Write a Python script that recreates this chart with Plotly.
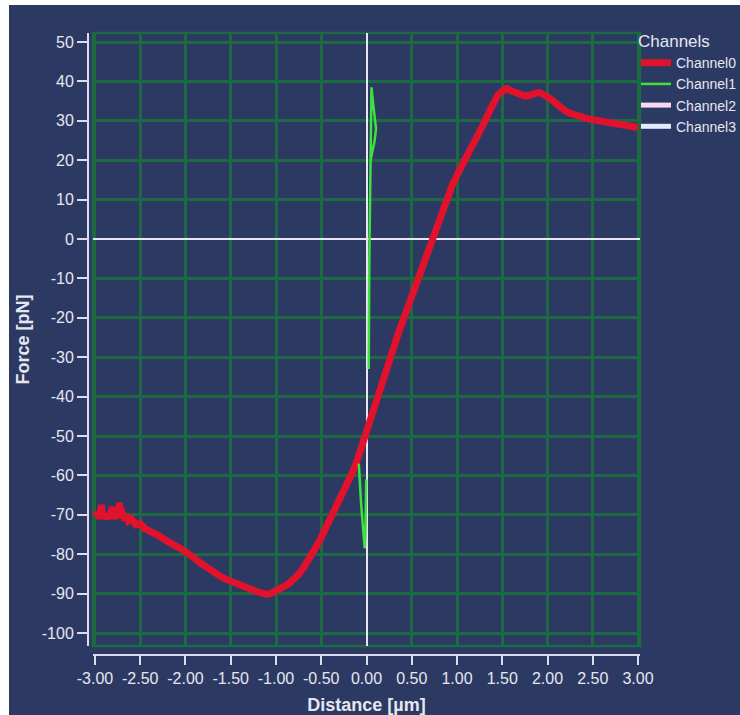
import plotly.graph_objects as go

# ---------------- data ----------------
ch0_distance = [-3.00, -2.97, -2.95, -2.93, -2.91, -2.89, -2.87, -2.85, -2.83, -2.81,
                -2.79, -2.77, -2.75, -2.73, -2.71, -2.69, -2.67, -2.65, -2.63, -2.60,
                -2.55, -2.50, -2.45, -2.40, -2.35, -2.30, -2.25, -2.20, -2.15, -2.10,
                -2.05, -2.00, -1.95, -1.90, -1.85, -1.80, -1.75, -1.70, -1.65, -1.60,
                -1.55, -1.50, -1.45, -1.40, -1.35, -1.30, -1.25, -1.20, -1.15, -1.10,
                -1.05, -1.00, -0.95, -0.90, -0.85, -0.80, -0.75, -0.70, -0.65, -0.60,
                -0.55, -0.50, -0.45, -0.40, -0.35, -0.30, -0.25, -0.20, -0.15, -0.10,
                -0.05, 0.00, 0.05, 0.10, 0.15, 0.20, 0.25, 0.30, 0.35, 0.40,
                0.45, 0.50, 0.55, 0.60, 0.65, 0.70, 0.75, 0.80, 0.85, 0.90,
                0.95, 1.00, 1.05, 1.10, 1.15, 1.20, 1.25, 1.30, 1.35, 1.40,
                1.45, 1.50, 1.55, 1.60, 1.65, 1.70, 1.75, 1.80, 1.85, 1.90,
                1.95, 2.00, 2.05, 2.10, 2.15, 2.20, 2.25, 2.30, 2.35, 2.40,
                2.45, 2.50, 2.55, 2.60, 2.65, 2.70, 2.75, 2.80, 2.85, 2.90,
                2.95, 3.00]
ch0_force = [-70.5, -69.5, -71.0, -67.5, -70.8, -70.0, -71.0, -69.8, -70.5, -68.0,
             -71.0, -69.5, -70.8, -67.0, -70.5, -70.0, -71.3, -70.0, -71.5, -71.0,
             -72.5, -72.2, -73.5, -74.0, -74.8, -75.2, -76.0, -76.8, -77.3, -78.0,
             -78.6, -79.3, -80.3, -81.0, -82.0, -82.8, -83.8, -84.5, -85.2, -85.8,
             -86.4, -86.9, -87.4, -87.9, -88.4, -88.8, -89.2, -89.6, -89.9, -90.2,
             -89.9, -89.4, -88.8, -88.1, -87.3, -86.3, -85.1, -83.6, -81.9, -80.0,
             -77.9, -75.7, -73.4, -71.1, -68.8, -66.5, -64.1, -61.6, -59.0, -56.0,
             -52.6, -49.3, -46.0, -42.3, -38.6, -35.0, -31.3, -27.6, -24.0, -20.8,
             -17.5, -14.2, -11.0, -8.0, -5.0, -2.2, 0.6, 3.8, 7.2, 10.6,
             13.8, 16.2, 18.3, 20.6, 22.8, 25.0, 27.0, 29.5, 32.0, 34.5,
             36.5, 37.5, 38.2, 37.6, 37.2, 36.8, 36.3, 36.5, 36.9, 37.2,
             36.8, 36.2, 35.3, 34.3, 33.3, 32.5, 31.9, 31.4, 31.1, 30.8,
             30.5, 30.3, 30.1, 29.9, 29.7, 29.5, 29.4, 29.2, 29.0, 28.8,
             28.6, 28.3]

ch1_distance = [0.025, 0.025, 0.03, 0.035, 0.04, 0.045, 0.05, 0.05, 0.055,
                0.07, 0.09, 0.105, 0.09, 0.06, 0.045, None,
                -0.085, -0.08, -0.07, -0.06, -0.045, -0.03, -0.02, -0.012,
                -0.006, -0.004, -0.003]
ch1_force = [-33.0, -20.0, -8.0, 2.0, 10.0, 18.0, 25.0, 31.0, 38.5,
             35.0, 31.0, 28.0, 25.0, 22.0, 20.0, None,
             -57.0, -60.0, -63.0, -67.0, -71.0, -75.0, -78.5, -75.0,
             -70.0, -65.0, -61.0]

channel_names = ["Channel0", "Channel1", "Channel2", "Channel3"]
channel_colors = ["#e3122c", "#3fe03f", "#f6d8f2", "#e4ecf8"]

x_ticks = [-3.0, -2.5, -2.0, -1.5, -1.0, -0.5, 0.0, 0.5, 1.0, 1.5, 2.0, 2.5, 3.0]
y_ticks = [50, 40, 30, 20, 10, 0, -10, -20, -30, -40, -50, -60, -70, -80, -90, -100]

# ---------------- styling ----------------
BG = "#2c3a63"
GRID = "#1d6a42"
AXIS = "#dcdcec"
TEXT = "#e6e6f0"
FONT = "Liberation Sans, Arial, sans-serif"

fig = go.Figure()
fig.add_trace(go.Scatter(x=ch0_distance, y=ch0_force, mode="lines", name=channel_names[0],
                         line=dict(color=channel_colors[0], width=7)))
fig.add_trace(go.Scatter(x=ch1_distance, y=ch1_force, mode="lines", name=channel_names[1],
                         line=dict(color=channel_colors[1], width=2.5), connectgaps=False))
fig.add_trace(go.Scatter(x=[None], y=[None], mode="lines", name=channel_names[2],
                         line=dict(color=channel_colors[2], width=5)))
fig.add_trace(go.Scatter(x=[None], y=[None], mode="lines", name=channel_names[3],
                         line=dict(color=channel_colors[3], width=5)))

W, H = 740, 715
ml, mr, mt, mb = 88, 100, 33, 60
pw, ph = W - ml - mr, H - mt - mb

fig.update_layout(
    width=W, height=H,
    margin=dict(l=ml, r=mr, t=mt, b=mb, autoexpand=False),
    paper_bgcolor=BG, plot_bgcolor=BG,
    font=dict(family=FONT, color=TEXT, size=15),
    showlegend=True,
    legend=dict(
        title=dict(text="Channels", font=dict(size=17, color=TEXT)),
        font=dict(size=14, color=TEXT),
        x=(636 - ml) / pw, xanchor="left",
        y=1.0 + 8 / ph, yanchor="top",
        bgcolor="rgba(0,0,0,0)", tracegroupgap=0,
    ),
    xaxis=dict(
        domain=[5 / pw, 1], anchor="free", position=0,
        range=[-3.022, 3.022],
        tickvals=x_ticks, ticktext=[f"{v:.2f}" for v in x_ticks],
        showgrid=True, gridcolor=GRID, gridwidth=2.5,
        zeroline=True, zerolinecolor="#e8e4f4", zerolinewidth=2,
        showline=True, linecolor=AXIS, linewidth=2,
        ticks="outside", ticklen=9, tickwidth=2, tickcolor=AXIS,
        tickfont=dict(size=16, color=TEXT),
        title=dict(text="<b>Distance [µm]</b>", font=dict(size=18, color=TEXT), standoff=12),
    ),
    yaxis=dict(
        domain=[9 / ph, 1], anchor="free", position=0,
        range=[-103.3, 52.3],
        tickvals=y_ticks, ticktext=[str(v) for v in y_ticks],
        showgrid=True, gridcolor=GRID, gridwidth=2.5,
        zeroline=True, zerolinecolor="#e8e4f4", zerolinewidth=2,
        showline=True, linecolor=AXIS, linewidth=2,
        ticks="outside", ticklen=10, tickwidth=2, tickcolor=AXIS,
        tickfont=dict(size=16, color=TEXT),
        title=dict(text="<b>Force [pN]</b>", font=dict(size=18, color=TEXT), standoff=6),
    ),
)

# plot frame
fig.add_shape(type="rect", xref="x domain", yref="y domain", x0=0, x1=1, y0=0, y1=1,
              line=dict(color=GRID, width=2.5), layer="below")

# thin white page border seen at the top and left of the screenshot
x_left, x_right = -ml / pw, 1 + mr / pw
y_bot, y_top = -mb / ph, 1 + mt / ph
fig.add_shape(type="rect", xref="paper", yref="paper", x0=x_left, x1=x_left + 9 / pw,
              y0=y_bot, y1=y_top, line=dict(width=0), fillcolor="white", layer="above")
fig.add_shape(type="rect", xref="paper", yref="paper", x0=x_left, x1=x_right,
              y0=y_top - 5 / ph, y1=y_top, line=dict(width=0), fillcolor="white", layer="above")

fig.write_html(
    "out.html",
    config={"displayModeBar": False},
    post_script="document.body.style.margin='0';document.body.style.overflow='hidden';",
)
